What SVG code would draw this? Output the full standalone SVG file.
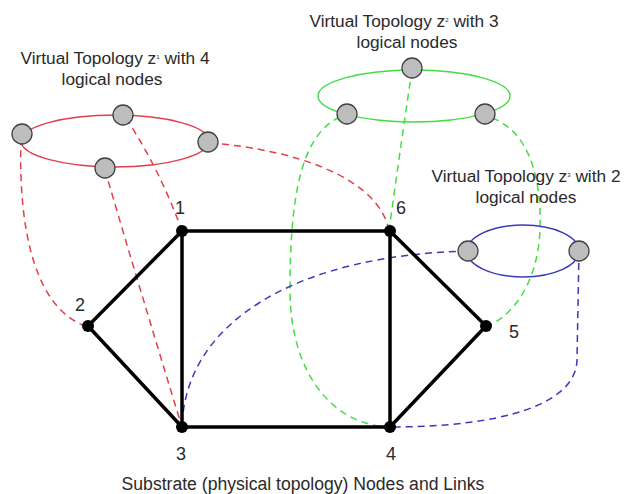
<svg xmlns="http://www.w3.org/2000/svg" width="626" height="494" viewBox="0 0 626 494">
<style>
.t{font-family:"Liberation Sans",Arial,sans-serif;fill:#2a2a2a;}
.title{font-size:17.3px;text-anchor:middle;}
.sub{font-size:17.6px;text-anchor:middle;}
.num{font-size:18px;text-anchor:middle;}
.sup{font-size:6px;}
.red{stroke:#e0404a;fill:none;stroke-width:1.5;}
.green{stroke:#44dd44;fill:none;stroke-width:1.5;}
.blue{stroke:#3a3ab8;fill:none;stroke-width:1.5;}
.dash{stroke-dasharray:7 5;}
.edge{stroke:#000;stroke-width:3.5;fill:none;stroke-linecap:round;}
.vn{fill:#bdbdbd;stroke:#404040;stroke-width:1.3;}
.sn{fill:#000;}
</style>
<rect width="626" height="494" fill="#fff"/>
<g id="connectors">
  <path class="red dash" d="M21,138 C18,230 35,310 88,327"/>
  <path class="red dash" d="M105,170 Q140,290 182,427"/>
  <path class="red dash" d="M126,118 Q160,170 182,231"/>
  <path class="red dash" d="M210,143 C300,150 380,180 389,231"/>
  <path class="green dash" d="M412,70 Q400,150 389,231"/>
  <path class="green dash" d="M340,117 C300,135 290,200 290,290 C290,370 330,425 390,427"/>
  <path class="green dash" d="M492,118 C525,130 542,170 540,230 C538,280 515,315 486,327"/>
  <path class="blue dash" d="M468,251 C300,255 185,320 182,427"/>
  <path class="blue dash" d="M579,251 L577,360 C576,405 500,427 390,427"/>
  <ellipse class="red" cx="115" cy="141" rx="94" ry="26"/>
  <ellipse class="green" cx="414" cy="96" rx="96" ry="26"/>
  <ellipse class="blue" cx="523" cy="251" rx="56" ry="26"/>
  <path class="edge" d="M182,231 L390,231 L486,326 L390,427 L182,427 L88,326 Z"/>
  <path class="edge" d="M182,231 L182,427 M390,231 L390,427"/>
</g>
<g id="vt1">
  <circle class="vn" cx="22" cy="134" r="10"/>
  <circle class="vn" cx="123" cy="115" r="10"/>
  <circle class="vn" cx="208" cy="142" r="10"/>
  <circle class="vn" cx="105" cy="168" r="10"/>
  <text class="t title" x="115" y="64">Virtual Topology z<tspan class="sup" dy="-5">1</tspan><tspan dy="5"> with 4</tspan></text>
  <text class="t title" x="112" y="85">logical nodes</text>
</g>
<g id="vt2">
  <circle class="vn" cx="412" cy="68" r="10"/>
  <circle class="vn" cx="347" cy="114" r="10"/>
  <circle class="vn" cx="485" cy="114" r="10"/>
  <text class="t title" x="404" y="27">Virtual Topology z<tspan class="sup" dy="-5">2</tspan><tspan dy="5"> with 3</tspan></text>
  <text class="t title" x="407" y="48">logical nodes</text>
</g>
<g id="vt3">
  <circle class="vn" cx="468" cy="251" r="10"/>
  <circle class="vn" cx="579" cy="251" r="10"/>
  <text class="t title" x="526" y="182">Virtual Topology z<tspan class="sup" dy="-5">3</tspan><tspan dy="5"> with 2</tspan></text>
  <text class="t title" x="526" y="203">logical nodes</text>
</g>
<g id="n1"><circle class="sn" cx="182" cy="231" r="6"/><text class="t num" x="180" y="214">1</text></g>
<g id="n2"><circle class="sn" cx="88" cy="326" r="6"/><text class="t num" x="80" y="311">2</text></g>
<g id="n3"><circle class="sn" cx="182" cy="427" r="6"/><text class="t num" x="181" y="460">3</text></g>
<g id="n4"><circle class="sn" cx="390" cy="427" r="6"/><text class="t num" x="391" y="460">4</text></g>
<g id="n5"><circle class="sn" cx="486" cy="326" r="6"/><text class="t num" x="514" y="338">5</text></g>
<g id="n6"><circle class="sn" cx="390" cy="231" r="6"/><text class="t num" x="401" y="214">6</text></g>
<text class="t sub" x="303" y="490">Substrate (physical topology) Nodes and Links</text>
</svg>
